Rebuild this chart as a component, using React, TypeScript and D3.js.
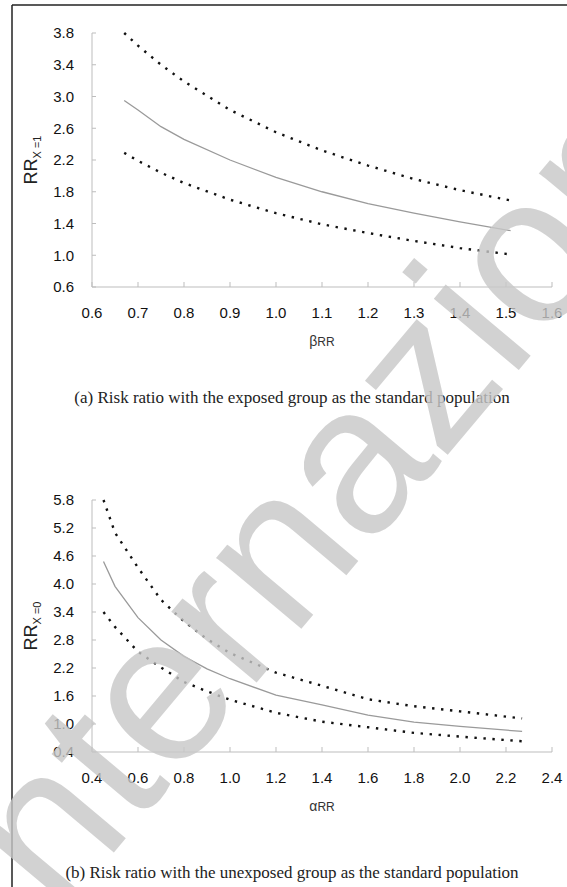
import * as d3 from 'd3';
import React from 'react';

// panel (a): exposed group as standard
const betaRR = [0.67, 0.7, 0.75, 0.8, 0.9, 1.0, 1.1, 1.2, 1.3, 1.4, 1.51];
const upperA = [3.8, 3.64, 3.4, 3.19, 2.83, 2.55, 2.32, 2.13, 1.96, 1.82, 1.69];
const midA = [2.95, 2.83, 2.62, 2.46, 2.2, 1.98, 1.8, 1.65, 1.53, 1.42, 1.31];
const lowerA = [2.29, 2.19, 2.04, 1.91, 1.7, 1.53, 1.39, 1.28, 1.18, 1.09, 1.01];
const xTicksA = [0.6, 0.7, 0.8, 0.9, 1.0, 1.1, 1.2, 1.3, 1.4, 1.5, 1.6];
const yTicksA = [0.6, 1.0, 1.4, 1.8, 2.2, 2.6, 3.0, 3.4, 3.8];

// panel (b): unexposed group as standard
const alphaRR = [0.45, 0.5, 0.6, 0.7, 0.8, 0.9, 1.0, 1.2, 1.4, 1.6, 1.8, 2.0, 2.27];
const upperB = [5.8, 5.1, 4.35, 3.66, 3.2, 2.82, 2.52, 2.1, 1.82, 1.53, 1.38, 1.27, 1.12];
const midB = [4.48, 3.95, 3.28, 2.8, 2.45, 2.18, 1.97, 1.62, 1.41, 1.19, 1.04, 0.95, 0.84];
const lowerB = [3.4, 3.08, 2.55, 2.21, 1.9, 1.7, 1.52, 1.24, 1.05, 0.93, 0.81, 0.73, 0.63];
const xTicksB = [0.4, 0.6, 0.8, 1.0, 1.2, 1.4, 1.6, 1.8, 2.0, 2.2, 2.4];
const yTicksB = [0.4, 1.0, 1.6, 2.2, 2.8, 3.4, 4.0, 4.6, 5.2, 5.8];

const SANS = '"Liberation Sans", Arial, sans-serif';
const SERIF = '"Liberation Serif", "Times New Roman", serif';

function Panel(props) {
  const { xs, upper, mid, lower, xTicks, yTicks, top, bottom, sub, xName, greek, caption, capY } = props;
  const x = d3.scaleLinear().domain([xTicks[0], xTicks[xTicks.length - 1]]).range([92, 552]);
  const y = d3.scaleLinear().domain([yTicks[0], yTicks[yTicks.length - 1]]).range([bottom, top]);
  const line = d3.line<number>().x((d, i) => x(xs[i])).y(d => y(d));
  const fmt = d3.format('.1f');
  const yMid = (top + bottom) / 2;

  return (
    <g>
      {/* axes */}
      <line x1={x.range()[0]} x2={x.range()[1]} y1={bottom} y2={bottom} stroke="#bdbdbd" strokeWidth={1} />
      <line x1={92} x2={92} y1={top} y2={bottom} stroke="#bdbdbd" strokeWidth={1} />
      {xTicks.map(t => (
        <g key={'x' + t}>
          <line x1={x(t)} x2={x(t)} y1={bottom} y2={bottom - 5} stroke="#bdbdbd" />
          <text x={x(t)} y={bottom + 31} textAnchor="middle" fontSize={15} fontFamily={SANS} fill="#111">{fmt(t)}</text>
        </g>
      ))}
      {yTicks.map(t => (
        <g key={'y' + t}>
          <line x1={92} x2={96} y1={y(t)} y2={y(t)} stroke="#bdbdbd" />
          <text x={74} y={y(t)} dy="0.36em" textAnchor="end" fontSize={15} fontFamily={SANS} fill="#111">{fmt(t)}</text>
        </g>
      ))}

      {/* series */}
      <path d={line(upper)} fill="none" stroke="#111" strokeWidth={2.4} strokeDasharray="2.4 6.6" />
      <path d={line(mid)} fill="none" stroke="#9a9a9a" strokeWidth={1.3} />
      <path d={line(lower)} fill="none" stroke="#111" strokeWidth={2.4} strokeDasharray="2.4 6.6" />

      {/* y title */}
      <text transform={`translate(37,${yMid}) rotate(-90)`} textAnchor="middle" fontFamily={SANS} fill="#222">
        <tspan fontSize={18}>RR</tspan>
        <tspan fontSize={11} dy={4}>{sub}</tspan>
      </text>

      {/* x title */}
      <text x={322} y={bottom + 59} textAnchor="middle" fontFamily={SANS} fill="#333">
        <tspan fontSize={14}>{greek}</tspan>
        <tspan fontSize={12}>{xName}</tspan>
      </text>

      <text x={292} y={capY} textAnchor="middle" fontSize={17} fontFamily={SERIF} fill="#222">{caption}</text>
    </g>
  );
}

export default function App() {
  return (
    <svg width={567} height={887} style={{ position: 'absolute', left: 0, top: 0, background: '#fff' }}>
      <rect width={567} height={887} fill="#fff" />
      <line x1={12} x2={567} y1={5} y2={5} stroke="#222" strokeWidth={1.5} />
      <line x1={12} x2={12} y1={5} y2={887} stroke="#222" strokeWidth={1.5} />

      <Panel xs={betaRR} upper={upperA} mid={midA} lower={lowerA}
        xTicks={xTicksA} yTicks={yTicksA} top={33} bottom={287}
        sub="X =1" greek="β" xName="RR"
        caption="(a) Risk ratio with the exposed group as the standard population" capY={403} />

      <Panel xs={alphaRR} upper={upperB} mid={midB} lower={lowerB}
        xTicks={xTicksB} yTicks={yTicksB} top={500} bottom={752}
        sub="X =0" greek="α" xName="RR"
        caption="(b) Risk ratio with the unexposed group as the standard population" capY={878} />

      {/* watermark */}
      <text transform="translate(22,962) rotate(-50)" fontSize={210} fontFamily={SANS}
        fill="#c8c8c8" opacity={0.8}>Internazionale</text>
    </svg>
  );
}
